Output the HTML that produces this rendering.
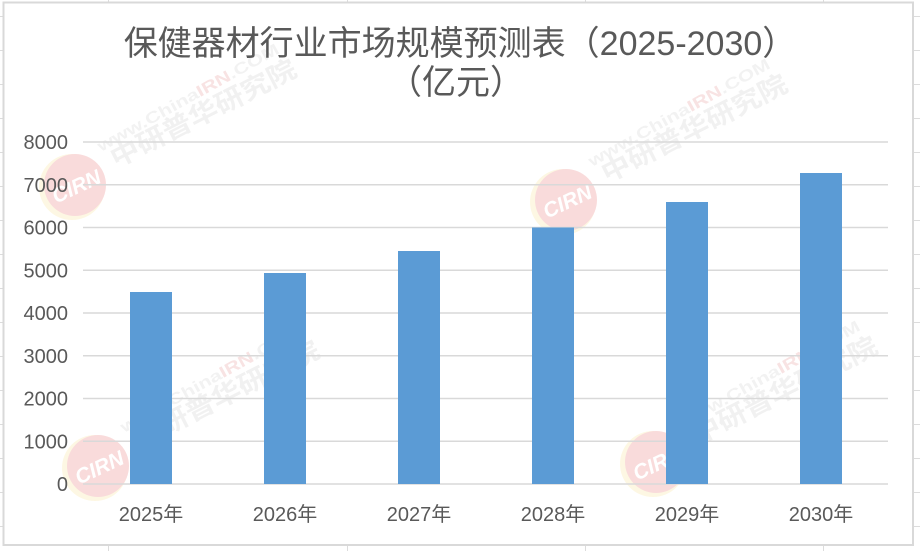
<!DOCTYPE html>
<html>
<head>
<meta charset="utf-8">
<style>
  html,body{margin:0;padding:0;background:#fff;}
  svg{display:block;}
  text{font-family:"Liberation Sans","Noto Sans CJK SC",sans-serif;}
</style>
</head>
<body>
<svg width="920" height="551" viewBox="0 0 920 551" xmlns="http://www.w3.org/2000/svg">
  <defs>
    <g id="wm">
      <circle cx="-3" cy="2" r="33" fill="#fdf6dc"/>
      <circle cx="0" cy="0" r="31" fill="#f8d3d3"/>
      <text x="-25" y="9" font-size="21" font-weight="bold" font-style="italic" fill="#ffffff" transform="rotate(-25)">CIRN</text>
      <g transform="translate(41,-17) rotate(-27)">
        <text x="0" y="0" font-size="26" font-weight="bold" fill="#eeeeee" textLength="205" lengthAdjust="spacingAndGlyphs">中研普华研究院</text>
      </g>
      <g transform="translate(26,-33) rotate(-29)">
        <text x="0" y="0" font-size="16" font-weight="bold" fill="#efefef" textLength="205" lengthAdjust="spacingAndGlyphs">www.China<tspan fill="#f7dcdc">IRN</tspan>.COM</text>
      </g>
    </g>
  </defs>

  <rect x="0" y="0" width="920" height="551" fill="#ffffff"/>

  <g stroke="#dcdcdc" stroke-width="1">
    <line x1="108.5" y1="0" x2="108.5" y2="3"/>
    <line x1="347.5" y1="0" x2="347.5" y2="3"/>
    <line x1="585.5" y1="0" x2="585.5" y2="3"/>
    <line x1="823.5" y1="0" x2="823.5" y2="3"/>
    <line x1="108.5" y1="545" x2="108.5" y2="551"/>
    <line x1="347.5" y1="545" x2="347.5" y2="551"/>
    <line x1="585.5" y1="545" x2="585.5" y2="551"/>
    <line x1="823.5" y1="545" x2="823.5" y2="551"/>
    <line x1="0" y1="16.5" x2="3" y2="16.5"/>
    <line x1="0" y1="50.5" x2="3" y2="50.5"/>
    <line x1="0" y1="84.5" x2="3" y2="84.5"/>
    <line x1="0" y1="118.5" x2="3" y2="118.5"/>
    <line x1="0" y1="152.5" x2="3" y2="152.5"/>
    <line x1="0" y1="186.5" x2="3" y2="186.5"/>
    <line x1="0" y1="220.5" x2="3" y2="220.5"/>
    <line x1="0" y1="254.5" x2="3" y2="254.5"/>
    <line x1="0" y1="288.5" x2="3" y2="288.5"/>
    <line x1="0" y1="322.5" x2="3" y2="322.5"/>
    <line x1="0" y1="356.5" x2="3" y2="356.5"/>
    <line x1="0" y1="390.5" x2="3" y2="390.5"/>
    <line x1="0" y1="424.5" x2="3" y2="424.5"/>
    <line x1="0" y1="458.5" x2="3" y2="458.5"/>
    <line x1="0" y1="492.5" x2="3" y2="492.5"/>
    <line x1="0" y1="526.5" x2="3" y2="526.5"/>
    <line x1="914" y1="16.5" x2="920" y2="16.5"/>
    <line x1="914" y1="50.5" x2="920" y2="50.5"/>
    <line x1="914" y1="84.5" x2="920" y2="84.5"/>
    <line x1="914" y1="118.5" x2="920" y2="118.5"/>
    <line x1="914" y1="152.5" x2="920" y2="152.5"/>
    <line x1="914" y1="186.5" x2="920" y2="186.5"/>
    <line x1="914" y1="220.5" x2="920" y2="220.5"/>
    <line x1="914" y1="254.5" x2="920" y2="254.5"/>
    <line x1="914" y1="288.5" x2="920" y2="288.5"/>
    <line x1="914" y1="322.5" x2="920" y2="322.5"/>
    <line x1="914" y1="356.5" x2="920" y2="356.5"/>
    <line x1="914" y1="390.5" x2="920" y2="390.5"/>
    <line x1="914" y1="424.5" x2="920" y2="424.5"/>
    <line x1="914" y1="458.5" x2="920" y2="458.5"/>
    <line x1="914" y1="492.5" x2="920" y2="492.5"/>
    <line x1="914" y1="526.5" x2="920" y2="526.5"/>
  </g>

  <rect x="3.5" y="2.5" width="909.5" height="542.5" fill="#ffffff" stroke="#d9d9d9" stroke-width="2"/>

  <g opacity="0.8">
    <use href="#wm" x="75" y="185"/>
    <use href="#wm" x="566" y="200"/>
    <use href="#wm" x="98" y="466"/>
    <use href="#wm" x="656" y="462"/>
  </g>

  <text x="460" y="55" font-size="34" fill="#595959" text-anchor="middle">保健器材行业市场规模预测表（2025-2030）</text>
  <text x="456" y="94" font-size="34" fill="#595959" text-anchor="middle">（亿元）</text>

  <g stroke="#d9d9d9" stroke-width="1.5">
    <line x1="83" y1="142" x2="888" y2="142"/>
    <line x1="83" y1="184.75" x2="888" y2="184.75"/>
    <line x1="83" y1="227.5" x2="888" y2="227.5"/>
    <line x1="83" y1="270.25" x2="888" y2="270.25"/>
    <line x1="83" y1="313" x2="888" y2="313"/>
    <line x1="83" y1="355.75" x2="888" y2="355.75"/>
    <line x1="83" y1="398.5" x2="888" y2="398.5"/>
    <line x1="83" y1="441.25" x2="888" y2="441.25"/>
    <line x1="83" y1="484" x2="888" y2="484"/>
  </g>

  <g font-size="20" fill="#595959" text-anchor="end">
    <text x="68" y="149">8000</text>
    <text x="68" y="191.75">7000</text>
    <text x="68" y="234.5">6000</text>
    <text x="68" y="277.25">5000</text>
    <text x="68" y="320">4000</text>
    <text x="68" y="362.75">3000</text>
    <text x="68" y="405.5">2000</text>
    <text x="68" y="448.25">1000</text>
    <text x="68" y="491">0</text>
  </g>

  <g fill="#5b9bd5">
    <rect x="130" y="292" width="42" height="192"/>
    <rect x="264" y="273" width="42" height="211"/>
    <rect x="398" y="251" width="42" height="233"/>
    <rect x="532" y="227.5" width="42" height="256.5"/>
    <rect x="666" y="202" width="42" height="282"/>
    <rect x="800" y="173" width="42" height="311"/>
  </g>

  <g font-size="20" fill="#595959" text-anchor="middle">
    <text x="151" y="521">2025年</text>
    <text x="285" y="521">2026年</text>
    <text x="419" y="521">2027年</text>
    <text x="553" y="521">2028年</text>
    <text x="687" y="521">2029年</text>
    <text x="821" y="521">2030年</text>
  </g>
</svg>
</body>
</html>
